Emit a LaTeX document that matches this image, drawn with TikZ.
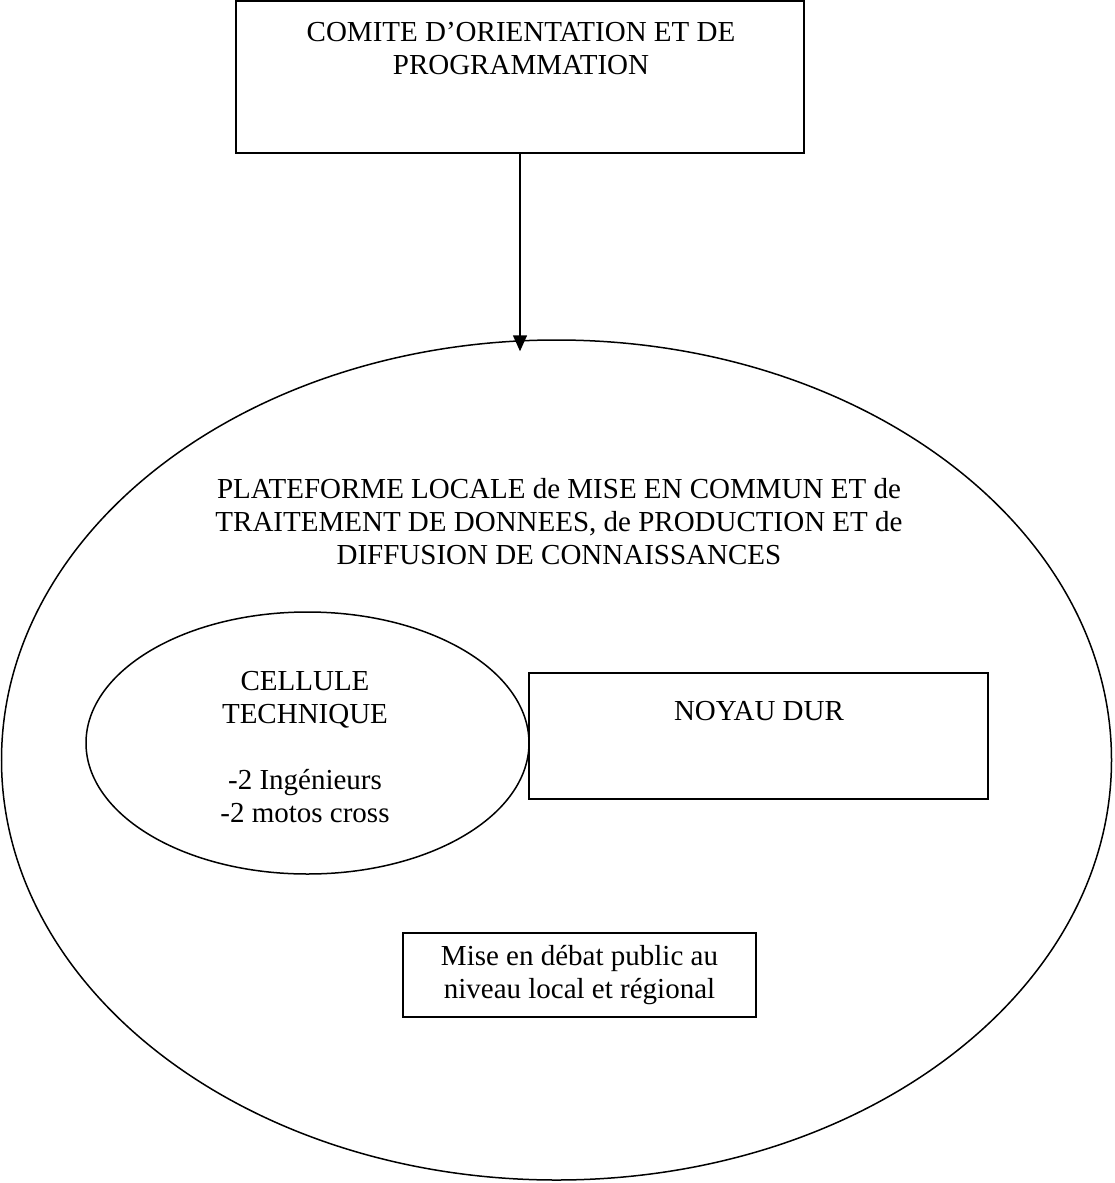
\documentclass[tikz,border=0pt]{standalone}
\usepackage{fontspec}
\setmainfont{Liberation Serif}
\usetikzlibrary{arrows.meta,shapes.geometric,positioning}

\begin{document}
\begin{tikzpicture}
[x=1pt,y=-1pt,
box/.style={shape=rectangle,draw=black,line width=1.6pt,inner sep=0pt},
oval/.style={shape=ellipse,draw=black,line width=1.5pt,inner sep=0pt},
txt/.style={align=center,inner sep=0pt,font=\fontsize{29}{33}\selectfont},
myedge/.style={line width=1.5pt,-{Triangle[width=14pt,length=16pt]}}]
\useasboundingbox (0,0) rectangle (1114,1183);
%%
% comite
%%
\node[box,minimum width=568pt,minimum height=152pt] (comite) at (520,77) {};
\node[txt,anchor=north] (comitetxt) at (521,22.4)
{COMITE D’ORIENTATION ET DE\\PROGRAMMATION};
%%
% plateforme
%%
\node[oval,minimum width=1110pt,minimum height=840pt] (plateforme) at (556.5,760) {};
\node[txt,anchor=north] (plateformetxt) at (559,478)
{PLATEFORME LOCALE de MISE EN COMMUN ET de\\
TRAITEMENT DE DONNEES, de PRODUCTION ET de\\
DIFFUSION DE CONNAISSANCES};
%
\coordinate (tip) at ([yshift=-12pt]comite.south |- plateforme.north);
\draw[myedge] (comite.south) -- (tip);
%%
% cellule technique
%%
\node[oval,minimum width=443pt,minimum height=262pt] (cellule) at (307.5,743) {};
\node[txt,anchor=north] (celluletxt) at (305,671)
{CELLULE\\TECHNIQUE\\[33pt]-2 Ingénieurs\\-2 motos cross};
%%
% noyau dur
%%
\node[box,minimum width=459pt,minimum height=126pt] (noyau) at (758.5,736) {};
\node[txt,anchor=north] (noyautxt) at (759,701) {NOYAU DUR};
%%
% debat
%%
\node[box,txt,draw,line width=1.6pt,minimum width=353pt,minimum height=84pt]
(debat) at (579.5,975) {Mise en débat public au\\niveau local et régional};
\end{tikzpicture}
\end{document}
